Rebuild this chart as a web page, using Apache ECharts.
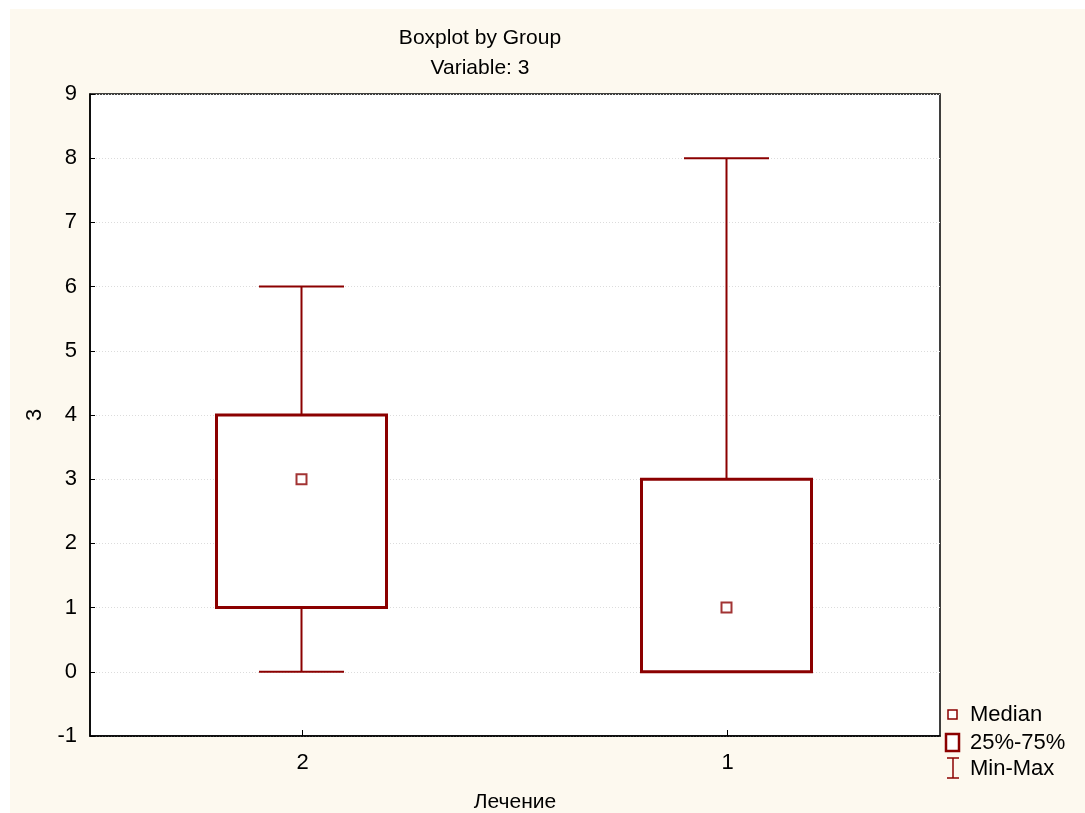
<!DOCTYPE html>
<html><head><meta charset="utf-8">
<script src="https://cdn.jsdelivr.net/npm/echarts@6/dist/echarts.min.js"></script>
<style>
html,body{margin:0;padding:0;background:#ffffff;}
#c{position:absolute;left:10px;top:9px;width:1075px;height:804px;background:#fdf9ef;}
</style></head>
<body><div id="c"></div>
<script>
const categories = ['2', '1'];
const mins = [0, 0];
const q1s = [1, 0];
const medians = [3, 1];
const q3s = [4, 3];
const maxs = [6, 8];
const yTicks = [-1, 0, 1, 2, 3, 4, 5, 6, 7, 8, 9];
const legendLabels = ['Median', '25%-75%', 'Min-Max'];

const RED = '#8b0000';
const FONT = 'Liberation Sans, Arial, sans-serif';
const FS = 22;

const boxData = categories.map((c, i) => [i, mins[i], q1s[i], q3s[i], maxs[i]]);
const medData = categories.map((c, i) => [i, medians[i]]);

const chart = echarts.init(document.getElementById('c'), null, {renderer: 'canvas'});
const option = {
  animation: false,
  title: {
    text: 'Boxplot by Group\nVariable: 3',
    left: 465, top: 9, textAlign: 'center',
    textStyle: {fontFamily: FONT, fontSize: FS - 1, fontWeight: 'normal', color: '#000', lineHeight: 30}
  },
  grid: {left: 80, top: 85, width: 850, height: 642, backgroundColor: '#fff', show: true,
    borderColor: '#000', borderWidth: 1.5, outerBoundsMode: 'none', containLabel: false},
  xAxis: {
    type: 'category', data: categories,
    name: 'Лечение', nameLocation: 'middle', nameGap: 56,
    nameTextStyle: {fontFamily: FONT, fontSize: FS - 1, color: '#000'},
    axisLine: {show: true, onZero: false, lineStyle: {color: '#000', width: 1.5}},
    axisTick: {show: true, inside: true, alignWithLabel: true, length: 6, lineStyle: {color: '#000'}},
    axisLabel: {fontFamily: FONT, fontSize: FS, color: '#000', margin: 16},
    splitLine: {show: false}
  },
  yAxis: {
    type: 'value', min: -1, max: 9, interval: 1,
    name: '3', nameLocation: 'middle', nameGap: 44, nameRotate: 90,
    nameTextStyle: {fontFamily: FONT, fontSize: FS, color: '#000'},
    axisLine: {show: true, onZero: false, lineStyle: {color: '#000', width: 1.5}},
    axisTick: {show: true, inside: true, length: 5, lineStyle: {color: '#000'}},
    axisLabel: {fontFamily: FONT, fontSize: FS, color: '#000', margin: 13,
      formatter: v => yTicks.includes(v) ? String(v) : ''},
    splitLine: {show: true, lineStyle: {color: '#dcdcdc', type: [1, 2], width: 1}}
  },
  series: [
    {
      type: 'custom',
      data: boxData,
      z: 3,
      renderItem: function (params, api) {
        const x = api.value(0);
        const pMin = api.coord([x, api.value(1)]);
        const pQ1 = api.coord([x, api.value(2)]);
        const pQ3 = api.coord([x, api.value(3)]);
        const pMax = api.coord([x, api.value(4)]);
        const band = api.size([1, 0])[0];
        const bw = band * 0.4;
        const cw = band * 0.2;
        const cx = pMin[0] - 1;
        const ls = {stroke: RED, lineWidth: 2, fill: null};
        return {
          type: 'group',
          children: [
            {type: 'line', shape: {x1: cx, y1: pMin[1], x2: cx, y2: pQ1[1]}, style: ls},
            {type: 'line', shape: {x1: cx, y1: pQ3[1], x2: cx, y2: pMax[1]}, style: ls},
            {type: 'line', shape: {x1: cx - cw / 2, y1: pMin[1], x2: cx + cw / 2, y2: pMin[1]}, style: ls},
            {type: 'line', shape: {x1: cx - cw / 2, y1: pMax[1], x2: cx + cw / 2, y2: pMax[1]}, style: ls},
            {type: 'rect', shape: {x: cx - bw / 2, y: pQ3[1], width: bw, height: pQ1[1] - pQ3[1]},
              style: {stroke: RED, lineWidth: 3, fill: '#fff'}}
          ]
        };
      }
    },
    {
      type: 'scatter',
      data: medData,
      z: 5,
      symbol: 'rect', symbolSize: 10,
      symbolOffset: [-1, 0],
      itemStyle: {color: '#fff', borderColor: RED, borderWidth: 2}
    }
  ],
  graphic: [
    {type: 'rect', shape: {x: 938, y: 701, width: 9, height: 9}, style: {fill: '#fff', stroke: RED, lineWidth: 1.5}},
    {type: 'text', x: 960, y: 706, style: {text: legendLabels[0], font: FS + 'px ' + FONT, fill: '#000', textVerticalAlign: 'middle'}},
    {type: 'rect', shape: {x: 936, y: 725, width: 13, height: 17}, style: {fill: '#fff', stroke: RED, lineWidth: 2.5}},
    {type: 'text', x: 960, y: 734, style: {text: legendLabels[1], font: FS + 'px ' + FONT, fill: '#000', textVerticalAlign: 'middle'}},
    {type: 'line', shape: {x1: 937, y1: 749, x2: 949, y2: 749}, style: {stroke: RED, lineWidth: 1.5}},
    {type: 'line', shape: {x1: 943, y1: 749, x2: 943, y2: 769}, style: {stroke: RED, lineWidth: 1.5}},
    {type: 'line', shape: {x1: 937, y1: 769, x2: 949, y2: 769}, style: {stroke: RED, lineWidth: 1.5}},
    {type: 'text', x: 960, y: 760, style: {text: legendLabels[2], font: FS + 'px ' + FONT, fill: '#000', textVerticalAlign: 'middle'}}
  ]
};
chart.setOption(option);
</script>
</body></html>
